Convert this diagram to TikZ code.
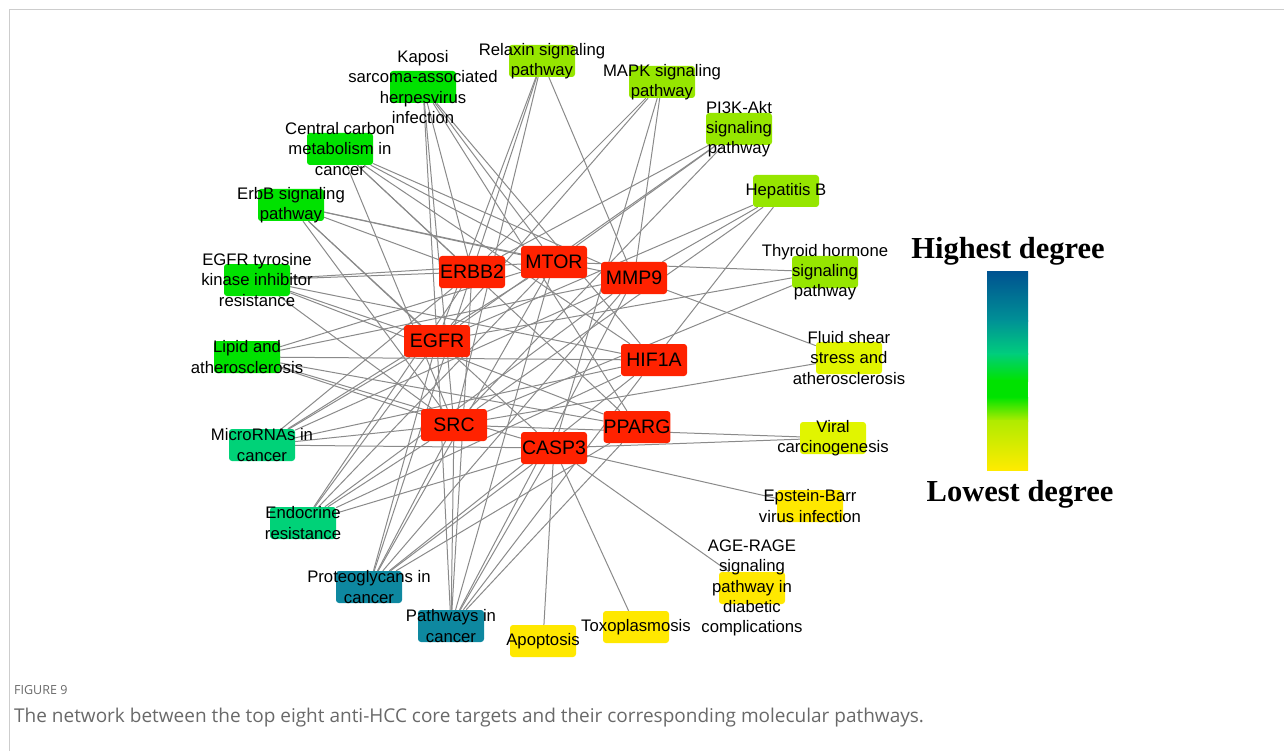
\documentclass[tikz,border=0pt]{standalone}
\usepackage{fontspec}
\setmainfont{Liberation Sans}
\newfontfamily\capfont{Open Sans}
\newfontfamily\legfont{Liberation Serif}
\usetikzlibrary{backgrounds}

\definecolor{hubred}{RGB}{255,34,0}
\definecolor{cblue}{RGB}{14,136,160}
\definecolor{cteal}{RGB}{0,210,120}
\definecolor{cgreen}{RGB}{0,226,0}
\definecolor{clime}{RGB}{150,230,0}
\definecolor{cyellowgreen}{RGB}{225,245,0}
\definecolor{cyellow}{RGB}{255,232,0}
\definecolor{edgegray}{RGB}{138,138,138}
\definecolor{framegray}{RGB}{205,205,205}
\definecolor{capgray}{RGB}{105,105,105}

\begin{document}
\begin{tikzpicture}[x=1pt,y=-1pt,
    target/.style={fill=hubred,minimum width=66pt,minimum height=32pt,rounded corners=3pt,inner sep=0pt,font=\fontsize{19.5}{22}\selectfont},
    pathway/.style={fill=#1,minimum width=66pt,minimum height=32pt,rounded corners=3pt,inner sep=0pt},
    plabel/.style={align=center,inner sep=0pt,font=\fontsize{16.7}{20.3}\selectfont},
    link/.style={draw=edgegray,line width=1pt}]
  \useasboundingbox (0,0) rectangle (1284,751);
  \draw[framegray] (9,751) -- (9,9) -- (1284,9);

  % core targets
  \node[target] (erbb2) at (472,272) {ERBB2};
  \node[target] (mtor) at (554,262) {MTOR};
  \node[target] (mmp9) at (634,278) {MMP9};
  \node[target] (egfr) at (437,341) {EGFR};
  \node[target] (hif1a) at (654,360) {HIF1A};
  \node[target] (src) at (454,425) {SRC};
  \node[target] (pparg) at (637,427) {PPARG};
  \node[target] (casp3) at (554,448) {CASP3};

  % pathways
  \node[pathway=cgreen,label={[plabel]center:{Kaposi\\sarcoma-associated\\herpesvirus\\infection}}] (kaposi) at (423,87) {};
  \node[pathway=clime,label={[plabel]center:{Relaxin signaling\\pathway}}] (relaxin) at (542,61) {};
  \node[pathway=clime,label={[plabel]center:{MAPK signaling\\pathway}}] (mapk) at (662,82) {};
  \node[pathway=clime,label={[plabel]center:{PI3K-Akt\\signaling\\pathway}}] (pi3k) at (739,129) {};
  \node[pathway=clime,label={[plabel]center:{Hepatitis B}}] (hepb) at (786,191) {};
  \node[pathway=clime,label={[plabel]center:{Thyroid hormone\\signaling\\pathway}}] (thyroid) at (825,272) {};
  \node[pathway=cyellowgreen,label={[plabel]center:{Fluid shear\\stress and\\atherosclerosis}}] (fluid) at (849,358) {};
  \node[pathway=cyellowgreen,label={[plabel]center:{Viral\\carcinogenesis}}] (viral) at (833,438) {};
  \node[pathway=cyellow,label={[plabel]center:{Epstein-Barr\\virus infection}}] (ebv) at (810,506) {};
  \node[pathway=cyellow,label={[plabel]center:{AGE-RAGE\\signaling\\pathway in\\diabetic\\complications}}] (agerage) at (752,588) {};
  \node[pathway=cyellow,label={[plabel]center:{Toxoplasmosis}}] (toxo) at (636,627) {};
  \node[pathway=cyellow,label={[plabel]center:{Apoptosis}}] (apoptosis) at (543,641) {};
  \node[pathway=cblue,label={[plabel]center:{Pathways in\\cancer}}] (pathways) at (451,626) {};
  \node[pathway=cblue,label={[plabel]center:{Proteoglycans in\\cancer}}] (proteo) at (369,587) {};
  \node[pathway=cteal,label={[plabel]center:{Endocrine\\resistance}}] (endocrine) at (303,523) {};
  \node[pathway=cteal,label={[plabel]center:{MicroRNAs in\\cancer}}] (mirna) at (262,445) {};
  \node[pathway=cgreen,label={[plabel]center:{Lipid and\\atherosclerosis}}] (lipid) at (247,357) {};
  \node[pathway=cgreen,label={[plabel]center:{EGFR tyrosine\\kinase inhibitor\\resistance}}] (egfrtki) at (257,280) {};
  \node[pathway=cgreen,label={[plabel]center:{ErbB signaling\\pathway}}] (erbb) at (291,205) {};
  \node[pathway=cgreen,label={[plabel]center:{Central carbon\\metabolism in\\cancer}}] (carbon) at (340,149) {};

  % target-pathway links
  \begin{scope}[on background layer]
    \foreach \p/\tl in {kaposi/{egfr,src,erbb2,mtor,hif1a,pparg},
        relaxin/{egfr,src,erbb2,mmp9}, mapk/{egfr,erbb2,casp3,mmp9},
        pi3k/{erbb2,mtor,egfr,src}, hepb/{mmp9,hif1a,src,egfr},
        thyroid/{mtor,src,egfr}, fluid/{mmp9,src}, viral/{src,casp3},
        ebv/{casp3}, agerage/{casp3}, toxo/{casp3}, apoptosis/{casp3},
        pathways/{erbb2,mtor,mmp9,egfr,hif1a,src,pparg,casp3},
        proteo/{erbb2,mtor,mmp9,egfr,hif1a,src,pparg,casp3},
        endocrine/{erbb2,egfr,mtor,src,mmp9,hif1a,casp3},
        mirna/{erbb2,mtor,egfr,mmp9,hif1a,src,casp3},
        lipid/{mmp9,src,pparg,casp3,hif1a,mtor},
        egfrtki/{erbb2,mtor,hif1a,pparg,src,egfr},
        erbb/{erbb2,mtor,mmp9,egfr,src,casp3},
        carbon/{mtor,mmp9,hif1a,src,pparg,erbb2}}
      \foreach \t in \tl
        \draw[link] (\p) -- (\t);
  \end{scope}

  % degree scale
  \shade[top color={rgb,255:red,0;green,82;blue,145},bottom color={rgb,255:red,0;green,145;blue,150}] (987,271) rectangle (1028,321);
  \shade[top color={rgb,255:red,0;green,145;blue,150},bottom color={rgb,255:red,0;green,205;blue,125}] (987,320) rectangle (1028,354);
  \shade[top color={rgb,255:red,0;green,205;blue,125},bottom color={rgb,255:red,0;green,228;blue,0}] (987,353) rectangle (1028,381);
  \fill[cgreen] (987,380) rectangle (1028,398);
  \shade[top color={rgb,255:red,0;green,228;blue,0},bottom color={rgb,255:red,175;green,235;blue,0}] (987,397) rectangle (1028,421);
  \shade[top color={rgb,255:red,175;green,235;blue,0},bottom color={rgb,255:red,255;green,235;blue,0}] (987,420) rectangle (1028,470);
  \node[font=\legfont\bfseries\fontsize{30.5}{32}\selectfont,inner sep=0pt] (highest) at (1008,251) {Highest degree};
  \node[font=\legfont\bfseries\fontsize{30.5}{32}\selectfont,inner sep=0pt] (lowest) at (1020,494) {Lowest degree};

  % caption
  \node[anchor=west,inner sep=0pt,text=capgray,font=\capfont\fontsize{12.5}{15}\selectfont] (figno) at (14,690) {FIGURE 9};
  \node[anchor=west,inner sep=0pt,text=capgray,font=\capfont\fontsize{19}{21}\selectfont] (caption) at (14,718) {The network between the top eight anti-HCC core targets and their corresponding molecular pathways.};
\end{tikzpicture}
\end{document}
